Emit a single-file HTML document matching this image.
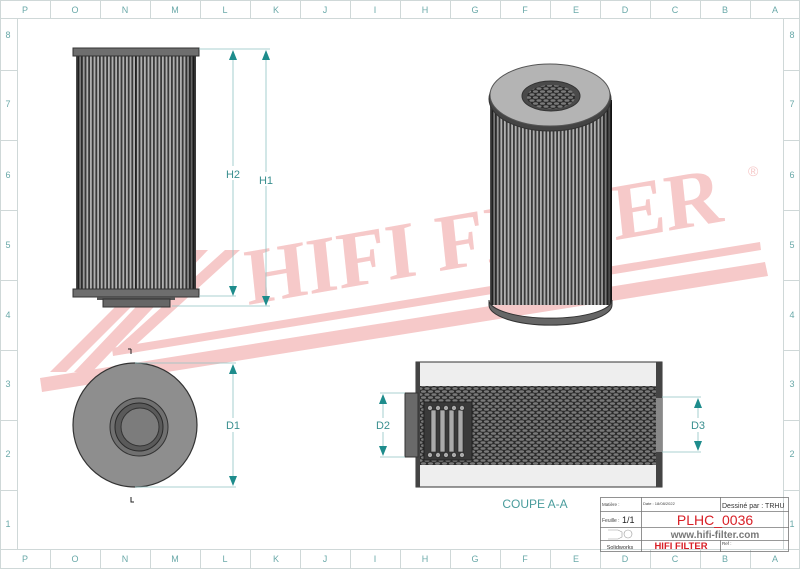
<!DOCTYPE html>
<html><head><meta charset="utf-8"><style>
html,body{margin:0;padding:0;background:#fff;}
svg{display:block;font-family:"Liberation Sans",sans-serif;}
</style></head><body>
<svg width="800" height="569" viewBox="0 0 800 569" xmlns="http://www.w3.org/2000/svg">
<defs>
<pattern id="pleat" width="3.6" height="10" patternUnits="userSpaceOnUse">
<rect width="3.6" height="10" fill="#3a3a3a"/><rect x="0" width="1.8" height="10" fill="#b0b0b0"/>
</pattern>
<pattern id="mesh" width="7" height="6" patternUnits="userSpaceOnUse">
<rect width="7" height="6" fill="#2b2b2b"/>
<ellipse cx="3.5" cy="1.5" rx="2.6" ry="1.3" fill="#7a7a7a"/>
<ellipse cx="0" cy="4.5" rx="2.6" ry="1.3" fill="#7a7a7a"/>
<ellipse cx="7" cy="4.5" rx="2.6" ry="1.3" fill="#7a7a7a"/>
</pattern>
<linearGradient id="shade" x1="0" x2="1">
<stop offset="0" stop-color="#000" stop-opacity=".6"/><stop offset=".08" stop-color="#000" stop-opacity="0"/>
<stop offset=".9" stop-color="#000" stop-opacity="0"/><stop offset="1" stop-color="#000" stop-opacity=".7"/>
</linearGradient>
</defs>

<!-- frame -->
<g stroke="#cfd8d8" stroke-width="1" fill="none">
<rect x="0.5" y="0.5" width="799" height="568"/>
<rect x="17.5" y="18.5" width="766" height="531"/>
<line x1="0" y1="18.5" x2="800" y2="18.5"/><line x1="0" y1="549.5" x2="800" y2="549.5"/>
</g>
<g stroke="#cfd8d8">
<line x1="50.5" y1="0" x2="50.5" y2="18"/><line x1="100.5" y1="0" x2="100.5" y2="18"/><line x1="150.5" y1="0" x2="150.5" y2="18"/><line x1="200.5" y1="0" x2="200.5" y2="18"/><line x1="250.5" y1="0" x2="250.5" y2="18"/><line x1="300.5" y1="0" x2="300.5" y2="18"/><line x1="350.5" y1="0" x2="350.5" y2="18"/><line x1="400.5" y1="0" x2="400.5" y2="18"/><line x1="450.5" y1="0" x2="450.5" y2="18"/><line x1="500.5" y1="0" x2="500.5" y2="18"/><line x1="550.5" y1="0" x2="550.5" y2="18"/><line x1="600.5" y1="0" x2="600.5" y2="18"/><line x1="650.5" y1="0" x2="650.5" y2="18"/><line x1="700.5" y1="0" x2="700.5" y2="18"/><line x1="750.5" y1="0" x2="750.5" y2="18"/>
<line x1="50.5" y1="550" x2="50.5" y2="569"/><line x1="100.5" y1="550" x2="100.5" y2="569"/><line x1="150.5" y1="550" x2="150.5" y2="569"/><line x1="200.5" y1="550" x2="200.5" y2="569"/><line x1="250.5" y1="550" x2="250.5" y2="569"/><line x1="300.5" y1="550" x2="300.5" y2="569"/><line x1="350.5" y1="550" x2="350.5" y2="569"/><line x1="400.5" y1="550" x2="400.5" y2="569"/><line x1="450.5" y1="550" x2="450.5" y2="569"/><line x1="500.5" y1="550" x2="500.5" y2="569"/><line x1="550.5" y1="550" x2="550.5" y2="569"/><line x1="600.5" y1="550" x2="600.5" y2="569"/><line x1="650.5" y1="550" x2="650.5" y2="569"/><line x1="700.5" y1="550" x2="700.5" y2="569"/><line x1="750.5" y1="550" x2="750.5" y2="569"/>
<line x1="0" y1="70.5" x2="17" y2="70.5"/><line x1="0" y1="140.5" x2="17" y2="140.5"/><line x1="0" y1="210.5" x2="17" y2="210.5"/><line x1="0" y1="280.5" x2="17" y2="280.5"/><line x1="0" y1="350.5" x2="17" y2="350.5"/><line x1="0" y1="420.5" x2="17" y2="420.5"/><line x1="0" y1="490.5" x2="17" y2="490.5"/>
<line x1="784" y1="70.5" x2="800" y2="70.5"/><line x1="784" y1="140.5" x2="800" y2="140.5"/><line x1="784" y1="210.5" x2="800" y2="210.5"/><line x1="784" y1="280.5" x2="800" y2="280.5"/><line x1="784" y1="350.5" x2="800" y2="350.5"/><line x1="784" y1="420.5" x2="800" y2="420.5"/><line x1="784" y1="490.5" x2="800" y2="490.5"/>
</g>
<g fill="#6aa9a9" font-size="9" text-anchor="middle">
<text x="25" y="13">P</text><text x="75" y="13">O</text><text x="125" y="13">N</text><text x="175" y="13">M</text><text x="225" y="13">L</text><text x="276" y="13">K</text><text x="325" y="13">J</text><text x="375" y="13">I</text><text x="425" y="13">H</text><text x="475" y="13">G</text><text x="525" y="13">F</text><text x="576" y="13">E</text><text x="625" y="13">D</text><text x="675" y="13">C</text><text x="725" y="13">B</text><text x="775" y="13">A</text>
<text x="25" y="562">P</text><text x="75" y="562">O</text><text x="125" y="562">N</text><text x="175" y="562">M</text><text x="225" y="562">L</text><text x="276" y="562">K</text><text x="325" y="562">J</text><text x="375" y="562">I</text><text x="425" y="562">H</text><text x="475" y="562">G</text><text x="525" y="562">F</text><text x="576" y="562">E</text><text x="625" y="562">D</text><text x="675" y="562">C</text><text x="725" y="562">B</text><text x="775" y="562">A</text>
<text x="8" y="38">8</text><text x="8" y="107">7</text><text x="8" y="178">6</text><text x="8" y="248">5</text><text x="8" y="318">4</text><text x="8" y="387">3</text><text x="8" y="457">2</text><text x="8" y="527">1</text>
<text x="792" y="38">8</text><text x="792" y="107">7</text><text x="792" y="178">6</text><text x="792" y="248">5</text><text x="792" y="318">4</text><text x="792" y="387">3</text><text x="792" y="457">2</text><text x="792" y="527">1</text>
</g>

<!-- watermark -->
<g fill="#f6c9c9">
<polygon points="190,250 208,250 92,372 74,372"/>
<polygon points="160,262 176,262 66,372 50,372"/>
<polygon points="225,250 240,250 128,352 112,352"/>
<polygon points="40,378 765,262 768,276 42,392"/>
<polygon points="112,348 760,242 761,250 113,356"/>
<text x="0" y="0" font-family="Liberation Serif,serif" font-weight="bold" font-size="80" transform="translate(248,305) rotate(-10) skewX(-4)">HIFI FILTER</text>
<text x="748" y="176" font-size="14" font-family="Liberation Sans,sans-serif">®</text>
</g>

<!-- left side view -->
<rect x="76" y="56" width="120" height="234" fill="url(#pleat)"/>
<rect x="76" y="56" width="120" height="234" fill="url(#shade)"/>
<line x1="136" y1="56" x2="136" y2="290" stroke="#111" stroke-width="1.2"/>
<rect x="73" y="48" width="126" height="8" fill="#6e6e6e" stroke="#333"/>
<rect x="73" y="289" width="126" height="8" fill="#6e6e6e" stroke="#333"/>
<rect x="97" y="297" width="78" height="3" fill="#555"/>
<rect x="103" y="299" width="67" height="8" fill="#666" stroke="#333"/>
<g stroke="#8fc3c3" stroke-width="0.8">
<line x1="199" y1="49" x2="270" y2="49"/><line x1="199" y1="296" x2="236" y2="296"/><line x1="172" y1="306" x2="270" y2="306"/>
<line x1="233" y1="55" x2="233" y2="290"/><line x1="266" y1="55" x2="266" y2="300"/>
</g>
<g fill="#1e8c8c">
<polygon points="233,50 229,60 237,60"/><polygon points="233,296 229,286 237,286"/>
<polygon points="266,50 262,60 270,60"/><polygon points="266,306 262,296 270,296"/>
</g>
<rect x="223" y="166" width="20" height="14" fill="#fff"/><rect x="256" y="172" width="20" height="14" fill="#fff"/>
<text x="233" y="178" fill="#3a8f8f" font-size="11" text-anchor="middle">H2</text>
<text x="266" y="184" fill="#3a8f8f" font-size="11" text-anchor="middle">H1</text>

<!-- end view -->
<circle cx="135" cy="425" r="62" fill="#8e8e8e" stroke="#333" stroke-width="1.2"/>
<circle cx="139" cy="427" r="29" fill="#707070" stroke="#333"/>
<circle cx="139" cy="427" r="24" fill="#5a5a5a" stroke="#2a2a2a"/>
<circle cx="140" cy="427" r="19" fill="#7c7c7c" stroke="#333"/>
<path d="M131,349 L131,354 M128,349 L131,349" stroke="#222" fill="none"/>
<path d="M131,497 L131,502 L134,502" stroke="#222" fill="none"/>
<g stroke="#8fc3c3" stroke-width="0.8">
<line x1="135" y1="363" x2="236" y2="363"/><line x1="135" y1="487" x2="236" y2="487"/>
<line x1="233" y1="368" x2="233" y2="482"/>
</g>
<g fill="#1e8c8c"><polygon points="233,364 229,374 237,374"/><polygon points="233,486 229,476 237,476"/></g>
<rect x="222" y="418" width="22" height="14" fill="#fff"/>
<text x="233" y="429" fill="#3a8f8f" font-size="11" text-anchor="middle">D1</text>

<!-- iso view -->
<rect x="490" y="100" width="122" height="205" fill="url(#pleat)"/>
<rect x="490" y="100" width="122" height="205" fill="url(#shade)"/>
<path d="M489,300 L489,305 A61,20 0 0 0 612,305 L612,300 A61,18 0 0 1 489,300 Z" fill="#666" stroke="#333"/>
<ellipse cx="550" cy="99" rx="61" ry="32" fill="#444" stroke="#333"/>
<ellipse cx="550" cy="95" rx="60" ry="31" fill="#b4b4b4" stroke="#555"/>
<ellipse cx="551" cy="96" rx="29" ry="15" fill="#4a4a4a" stroke="#333"/>
<ellipse cx="551" cy="97" rx="24" ry="12" fill="url(#mesh)"/>

<!-- section -->
<rect x="416" y="362" width="246" height="125" fill="#eeeeee" stroke="#333"/>
<rect x="420" y="386" width="236" height="79" fill="url(#mesh)"/>
<rect x="416" y="362" width="4" height="125" fill="#444"/>
<rect x="656" y="362" width="6" height="125" fill="#444"/>
<rect x="656" y="398" width="6" height="54" fill="#888"/>
<rect x="405" y="393" width="13" height="64" fill="#6a6a6a" stroke="#333"/>
<rect x="424" y="402" width="48" height="58" fill="#3a3a3a" stroke="#222"/>
<g fill="#aaa" stroke="#222" stroke-width="0.6">
<rect x="431" y="410" width="5" height="42"/><rect x="440" y="410" width="5" height="42"/><rect x="449" y="410" width="5" height="42"/><rect x="458" y="410" width="5" height="42"/>
<circle cx="430" cy="408" r="2.5"/><circle cx="438" cy="408" r="2.5"/><circle cx="446" cy="408" r="2.5"/><circle cx="454" cy="408" r="2.5"/><circle cx="462" cy="408" r="2.5"/>
<circle cx="430" cy="455" r="2.5"/><circle cx="438" cy="455" r="2.5"/><circle cx="446" cy="455" r="2.5"/><circle cx="454" cy="455" r="2.5"/><circle cx="462" cy="455" r="2.5"/>
</g>
<g stroke="#8fc3c3" stroke-width="0.8">
<line x1="380" y1="393" x2="405" y2="393"/><line x1="380" y1="457" x2="405" y2="457"/><line x1="383" y1="398" x2="383" y2="452"/>
<line x1="662" y1="397" x2="701" y2="397"/><line x1="662" y1="452" x2="701" y2="452"/><line x1="698" y1="402" x2="698" y2="447"/>
</g>
<g fill="#1e8c8c">
<polygon points="383,394 379,404 387,404"/><polygon points="383,456 379,446 387,446"/>
<polygon points="698,398 694,408 702,408"/><polygon points="698,451 694,441 702,441"/>
</g>
<rect x="372" y="418" width="22" height="14" fill="#fff"/><rect x="687" y="418" width="22" height="14" fill="#fff"/>
<text x="383" y="429" fill="#3a8f8f" font-size="11" text-anchor="middle">D2</text>
<text x="698" y="429" fill="#3a8f8f" font-size="11" text-anchor="middle">D3</text>
<text x="535" y="508" fill="#4a9c9c" font-size="12" text-anchor="middle">COUPE A-A</text>

<!-- title block -->
<g stroke="#777" stroke-width="0.8" fill="none">
<rect x="600.5" y="497.5" width="188" height="54"/>
<line x1="600" y1="511.5" x2="789" y2="511.5"/>
<line x1="600" y1="527.5" x2="789" y2="527.5"/>
<line x1="600" y1="540.5" x2="789" y2="540.5"/>
<line x1="641.5" y1="497" x2="641.5" y2="552"/>
<line x1="720.5" y1="497" x2="720.5" y2="511"/>
<line x1="720.5" y1="540" x2="720.5" y2="552"/>
</g>
<text x="602" y="506" font-size="4.5" fill="#444">Matière :</text>
<text x="643" y="505" font-size="4" fill="#444">Date : 18/08/2022</text>
<text x="722" y="508" font-size="7" fill="#333">Dessiné par : TRHU</text>
<text x="602" y="522" font-size="5" fill="#444">Feuille :</text>
<text x="622" y="523" font-size="9" fill="#222">1/1</text>
<text x="715" y="525" font-size="14" fill="#d81f26" text-anchor="middle">PLHC_0036</text>
<text x="715" y="538" font-size="10" fill="#777" font-weight="bold" text-anchor="middle">www.hifi-filter.com</text>
<g stroke="#999" fill="none" stroke-width="0.6"><path d="M608,530 L618,530 L622,532 L622,537 L618,539 L608,539"/><circle cx="628" cy="534" r="4"/></g>
<text x="620" y="549" font-size="5.5" fill="#333" text-anchor="middle">Solidworks</text>
<text x="681" y="549" font-size="9.5" font-weight="bold" fill="#d81f26" text-anchor="middle">HIFI FILTER</text>
<text x="722" y="545" font-size="4.5" fill="#444">Ref :</text>
</svg>
</body></html>
